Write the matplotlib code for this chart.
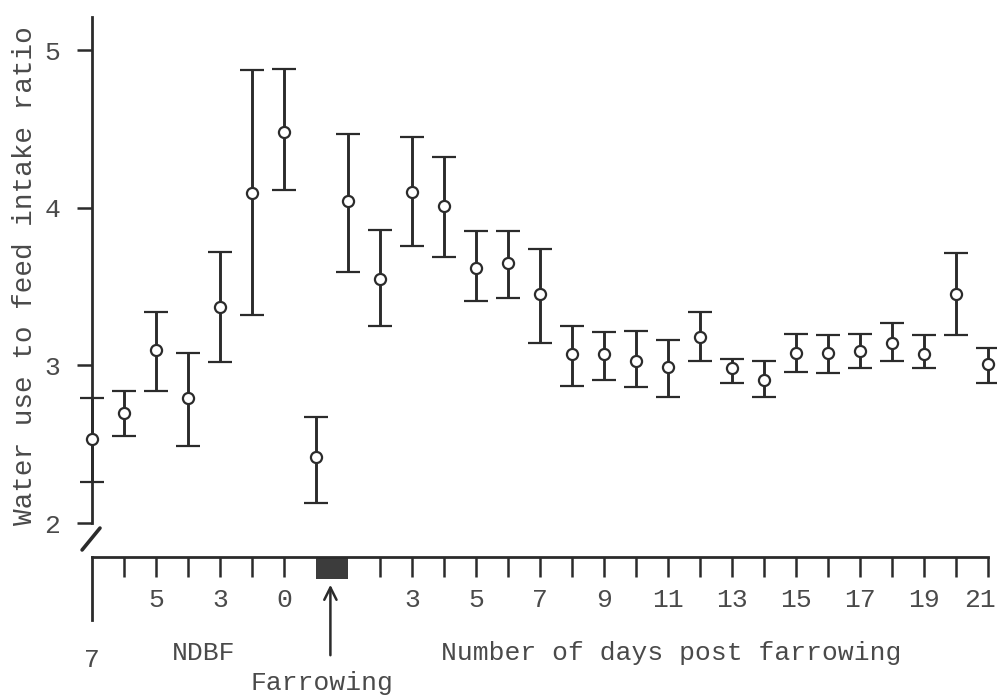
import numpy as np
import matplotlib
matplotlib.use("Agg")
import matplotlib.pyplot as plt
import matplotlib.transforms as mtransforms
from matplotlib.patches import Rectangle

plt.rcParams["font.family"] = ["Liberation Mono", "DejaVu Sans Mono"]

# positions along the time axis: 0-6 days before farrowing, 7 farrowing, 8-28 days 1-21 after
pos = np.arange(29)
ratio_mean = [2.53, 2.70, 3.10, 2.79, 3.37, 4.09, 4.48, 2.42,
              4.04, 3.55, 4.10, 4.01, 3.62, 3.65, 3.45, 3.07, 3.07,
              3.03, 2.99, 3.18, 2.98, 2.91, 3.08, 3.08, 3.09, 3.14,
              3.07, 3.45, 3.01]
ratio_upper = [2.79, 2.84, 3.34, 3.08, 3.72, 4.87, 4.88, 2.67,
               4.47, 3.86, 4.45, 4.32, 3.85, 3.85, 3.74, 3.25, 3.21,
               3.22, 3.16, 3.34, 3.04, 3.03, 3.20, 3.19, 3.20, 3.27,
               3.19, 3.71, 3.11]
ratio_lower = [2.26, 2.55, 2.84, 2.49, 3.02, 3.32, 4.11, 2.13,
               3.59, 3.25, 3.76, 3.69, 3.41, 3.43, 3.14, 2.87, 2.91,
               2.86, 2.80, 3.03, 2.89, 2.80, 2.96, 2.95, 2.98, 3.03,
               2.98, 3.19, 2.89]

tick_pos = [1, 2, 3, 4, 5, 6, 9, 10, 11, 12, 13, 14, 15, 16, 17, 18,
            19, 20, 21, 22, 23, 24, 25, 26, 27, 28]
label_pos = [2, 4, 6, 10, 12, 14, 16, 18, 20, 22, 24, 26, 28]
label_txt = ["5", "3", "0", "3", "5", "7", "9", "11", "13", "15", "17", "19", "21"]
y_ticks = [2, 3, 4, 5]

ink = "#2b2b2b"
txt = "#4a4a4a"

W, H = 997, 698
fig = plt.figure(figsize=(W / 100, H / 100), dpi=100)
ax = fig.add_axes([92 / W, (H - 557) / H, 896 / W, 540 / H])
ax.set_xlim(0, 28)
ax.set_ylim(1.7844, 5.2093)

m = np.array(ratio_mean)
err = [m - np.array(ratio_lower), np.array(ratio_upper) - m]
ax.errorbar(pos, m, yerr=err, fmt="o", color=ink, ecolor=ink, elinewidth=2.1,
            capsize=8.5, capthick=2.1, markersize=8, mfc="white", mec=ink,
            mew=1.6, clip_on=False, zorder=3)

for s in ["top", "right"]:
    ax.spines[s].set_visible(False)
ax.spines["left"].set_bounds(2, 5.2093)
ax.spines["bottom"].set_bounds(0, 28)
for s in ["left", "bottom"]:
    ax.spines[s].set_linewidth(2.0)
    ax.spines[s].set_color(ink)

ax.set_yticks(y_ticks)
ax.set_yticklabels([str(v) for v in y_ticks])
ax.tick_params(axis="y", direction="out", length=11, width=1.8, color=ink,
               labelsize=19, labelcolor=txt, pad=12)

ax.set_xticks(tick_pos)
ax.set_xticklabels([label_txt[label_pos.index(p)] if p in label_pos else ""
                    for p in tick_pos])
ax.tick_params(axis="x", direction="out", length=14.5, width=1.8, color=ink,
               labelsize=19, labelcolor=txt, pad=8)
# last label sits against the right edge
last = ax.get_xticklabels()[-1]
last.set_transform(last.get_transform() +
                   mtransforms.ScaledTranslation(-8 / 100, 0, fig.dpi_scale_trans))

bt = mtransforms.blended_transform_factory(ax.transData, ax.transAxes)

# long tick at the start of the time axis
ax.plot([0, 0], [0, -63 / 540], transform=bt, color=ink, lw=2.0, clip_on=False)
ax.text(0, -103 / 540, "7", transform=bt, ha="center", va="center",
        fontsize=19, color=txt)

# farrowing block and arrow
ax.add_patch(Rectangle((7, -22 / 540), 1, 22 / 540, transform=bt,
                       facecolor="#3c3c3c", edgecolor="none", clip_on=False))
ax.annotate("", xy=(7.45, -25 / 540), xytext=(7.45, -101 / 540),
            xycoords=bt, textcoords=bt,
            arrowprops=dict(arrowstyle="->", color=ink, lw=1.8,
                            mutation_scale=22))
ax.text(7.2, -126 / 540, "Farrowing", transform=bt, ha="center", va="center",
        fontsize=19, color=txt)

ax.text(3.5, -96 / 540, "NDBF", transform=bt, ha="center", va="center",
        fontsize=19, color=txt)
ax.text(18.1, -96 / 540, "Number of days post farrowing", transform=bt,
        ha="center", va="center", fontsize=19, color=txt)

# axis break mark
ax.plot([-0.31, 0.25], [1.829, 1.968], color=ink, lw=2.6, clip_on=False,
        solid_capstyle="round")

fig.text(25 / W, 1 - 276 / H, "Water use to feed intake ratio", rotation=90,
         ha="center", va="center", fontsize=20, color=txt)

fig.savefig("out.png", dpi=100, facecolor="white")
